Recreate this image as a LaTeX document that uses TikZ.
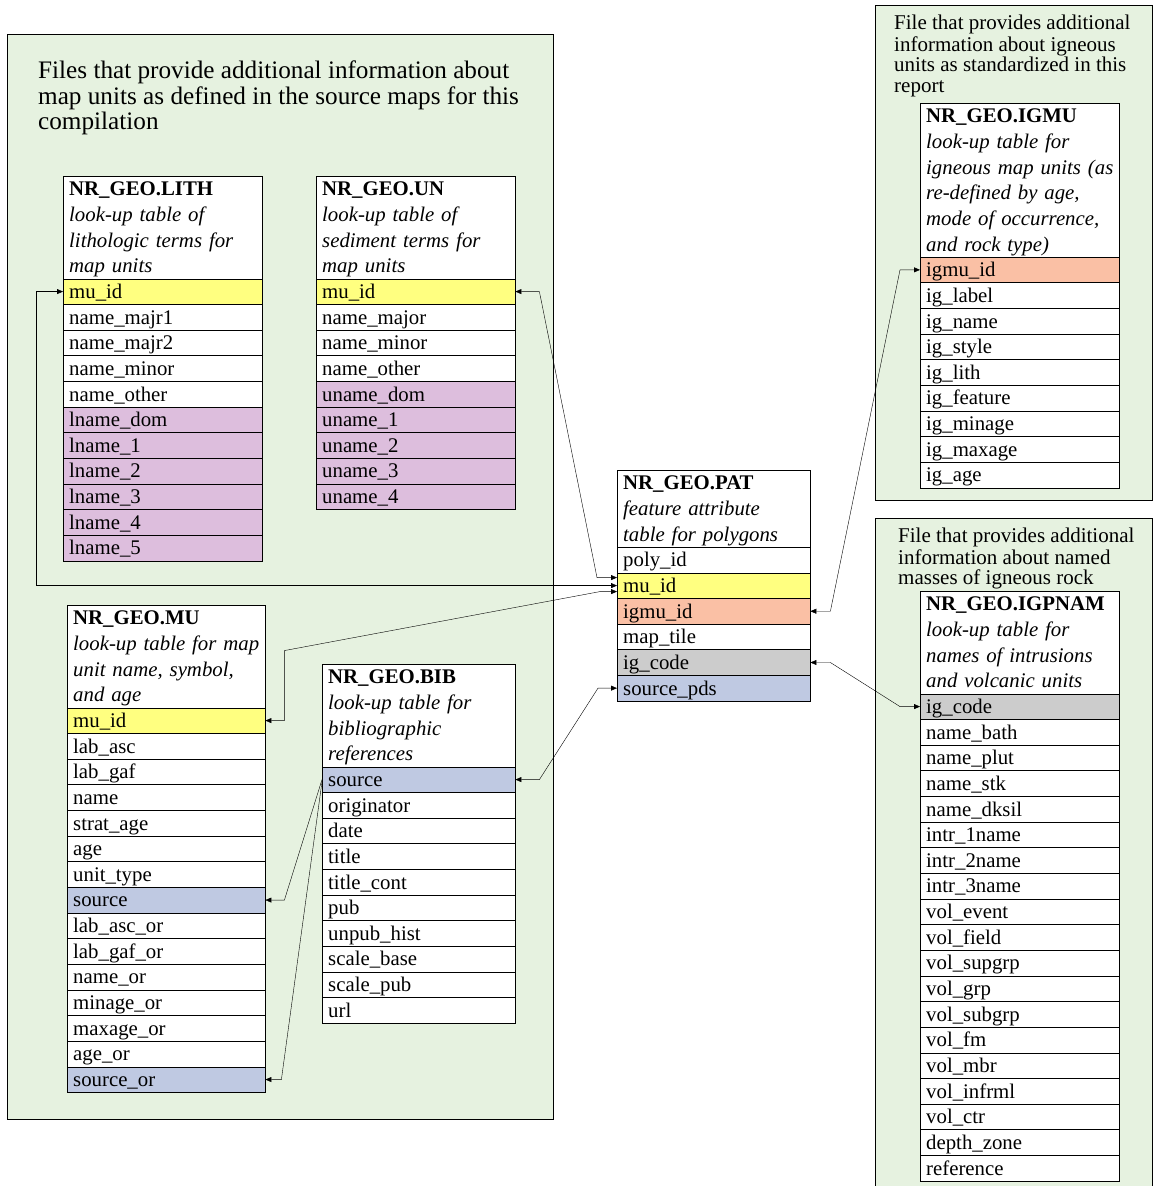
\documentclass[tikz,border=0pt]{standalone}
\usepackage{fontspec}
\setmainfont{Liberation Serif}
\usetikzlibrary{arrows.meta}
\definecolor{panelgreen}{RGB}{230,242,224}
\definecolor{keyyel}{RGB}{255,255,128}
\definecolor{keysal}{RGB}{250,192,165}
\definecolor{keylil}{RGB}{221,190,221}
\definecolor{keygry}{RGB}{204,204,204}
\definecolor{keyblu}{RGB}{191,201,226}
\hyphenpenalty=10000
\exhyphenpenalty=10000
\newcommand\tabfont{\fontsize{20.8}{25.64}\selectfont}
\newcommand\bigfont{\fontsize{25.2}{25}\selectfont}
\newcommand\smallfont{\fontsize{21}{20.7}\selectfont}
\newcommand\rowstrut{\rule[-5.9pt]{0pt}{25.64pt}}
\def\rowh{25.64}
\tikzset{
  tbl/.style={draw, anchor=north west, inner xsep=6pt, inner ysep=0pt,
    text width=#1, align=left, fill=white, font=\tabfont},
  panel/.style={draw, fill=panelgreen},
  note/.style={anchor=north west, inner sep=0pt, align=left},
  link/.style={draw, {Triangle[length=6pt,width=5pt]}-{Triangle[length=6pt,width=5pt]}},
  oneway/.style={draw, -{Triangle[length=6pt,width=5pt]}}
}
\begin{document}
\begin{tikzpicture}[x=1pt,y=-1pt]
  \useasboundingbox (0,0) rectangle (1153,1186);
  % panels
  \path[panel] (7,34) rectangle (553,1119);
  \path[panel] (875,5) rectangle (1152,500);
  \path[panel] (875,518) rectangle (1152,1200);
  \node[note, font=\bigfont] (srcnote) at (38,60.5)
    {\strut Files that provide additional information about\\map units as defined in the source maps for this\\compilation};
  \node[note, font=\smallfont] (igmunote) at (894,14.5)
    {\strut File that provides additional\\information about igneous\\units as standardized in this\\report};
  \node[note, font=\smallfont] (igpnote) at (898,527.5)
    {\strut File that provides additional\\information about named\\masses of igneous rock};

  \def \LithRows{
    1/mu\_id/keyyel,
    2/name\_majr1/white,
    3/name\_majr2/white,
    4/name\_minor/white,
    5/name\_other/white,
    6/lname\_dom/keylil,
    7/lname\_1/keylil,
    8/lname\_2/keylil,
    9/lname\_3/keylil,
    10/lname\_4/keylil,
    11/lname\_5/keylil}
  \def \UnRows{
    1/mu\_id/keyyel,
    2/name\_major/white,
    3/name\_minor/white,
    4/name\_other/white,
    5/uname\_dom/keylil,
    6/uname\_1/keylil,
    7/uname\_2/keylil,
    8/uname\_3/keylil,
    9/uname\_4/keylil}
  \def \MuRows{
    1/mu\_id/keyyel,
    2/lab\_asc/white,
    3/lab\_gaf/white,
    4/name/white,
    5/strat\_age/white,
    6/age/white,
    7/unit\_type/white,
    8/source/keyblu,
    9/lab\_asc\_or/white,
    10/lab\_gaf\_or/white,
    11/name\_or/white,
    12/minage\_or/white,
    13/maxage\_or/white,
    14/age\_or/white,
    15/source\_or/keyblu}
  \def \BibRows{
    1/source/keyblu,
    2/originator/white,
    3/date/white,
    4/title/white,
    5/title\_cont/white,
    6/pub/white,
    7/unpub\_hist/white,
    8/scale\_base/white,
    9/scale\_pub/white,
    10/url/white}
  \def \PatRows{
    1/poly\_id/white,
    2/mu\_id/keyyel,
    3/igmu\_id/keysal,
    4/map\_tile/white,
    5/ig\_code/keygry,
    6/source\_pds/keyblu}
  \def \IgmuRows{
    1/igmu\_id/keysal,
    2/ig\_label/white,
    3/ig\_name/white,
    4/ig\_style/white,
    5/ig\_lith/white,
    6/ig\_feature/white,
    7/ig\_minage/white,
    8/ig\_maxage/white,
    9/ig\_age/white}
  \def \IgpRows{
    1/ig\_code/keygry,
    2/name\_bath/white,
    3/name\_plut/white,
    4/name\_stk/white,
    5/name\_dksil/white,
    6/intr\_1name/white,
    7/intr\_2name/white,
    8/intr\_3name/white,
    9/vol\_event/white,
    10/vol\_field/white,
    11/vol\_supgrp/white,
    12/vol\_grp/white,
    13/vol\_subgrp/white,
    14/vol\_fm/white,
    15/vol\_mbr/white,
    16/vol\_infrml/white,
    17/vol\_ctr/white,
    18/depth\_zone/white,
    19/reference/white}

  % table headers
  \node[tbl=187pt] (lith) at (63,176)
    {\rowstrut\textbf{NR\_GEO.LITH}\\\textit{look-up~table~of}\\\textit{lithologic~terms~for}\\\textit{map~units}\rowstrut};
  \node[tbl=187pt] (un) at (316,176)
    {\rowstrut\textbf{NR\_GEO.UN}\\\textit{look-up~table~of}\\\textit{sediment~terms~for}\\\textit{map~units}\rowstrut};
  \node[tbl=186pt] (mu) at (67,605)
    {\rowstrut\textbf{NR\_GEO.MU}\\\mbox{\textit{look-up table for map}}\\\textit{unit~name,~symbol,}\\\textit{and~age}\rowstrut};
  \node[tbl=181pt] (bib) at (322,664)
    {\rowstrut\textbf{NR\_GEO.BIB}\\\textit{look-up~table~for}\\\textit{bibliographic}\\\textit{references}\rowstrut};
  \node[tbl=181pt] (pat) at (617,470)
    {\rowstrut\textbf{NR\_GEO.PAT}\\\textit{feature~attribute}\\\textit{table~for~polygons}\rowstrut};
  \node[tbl=187pt] (igmu) at (920,103)
    {\rowstrut\textbf{NR\_GEO.IGMU}\\\textit{look-up~table~for}\\\mbox{\textit{igneous map units (as}}\\\textit{re-defined~by~age,}\\\textit{mode~of~occurrence,}\\\textit{and~rock~type)}\rowstrut};
  \node[tbl=187pt] (igp) at (920,591)
    {\rowstrut\textbf{NR\_GEO.IGPNAM}\\\textit{look-up~table~for}\\\textit{names~of~intrusions}\\\textit{and~volcanic~units}\rowstrut};

  % table rows
  \foreach \id / \txt / \col in \LithRows{
    \node[tbl=187pt, fill=\col] (lith-\id) at (63,{176+(\id+3)*\rowh}) {\rowstrut\txt};
  }
  \foreach \id / \txt / \col in \UnRows{
    \node[tbl=187pt, fill=\col] (un-\id) at (316,{176+(\id+3)*\rowh}) {\rowstrut\txt};
  }
  \foreach \id / \txt / \col in \MuRows{
    \node[tbl=186pt, fill=\col] (mu-\id) at (67,{605+(\id+3)*\rowh}) {\rowstrut\txt};
  }
  \foreach \id / \txt / \col in \BibRows{
    \node[tbl=181pt, fill=\col] (bib-\id) at (322,{664+(\id+3)*\rowh}) {\rowstrut\txt};
  }
  \foreach \id / \txt / \col in \PatRows{
    \node[tbl=181pt, fill=\col] (pat-\id) at (617,{470+(\id+2)*\rowh}) {\rowstrut\txt};
  }
  \foreach \id / \txt / \col in \IgmuRows{
    \node[tbl=187pt, fill=\col] (igmu-\id) at (920,{103+(\id+5)*\rowh}) {\rowstrut\txt};
  }
  \foreach \id / \txt / \col in \IgpRows{
    \node[tbl=187pt, fill=\col] (igp-\id) at (920,{591+(\id+3)*\rowh}) {\rowstrut\txt};
  }

  % key links
  \path[link] (lith-1.west) -- ++(-27,0) |- (pat-2.west);
  \path[link] (un-1.east) -- ++(24,0) -- ([xshift=-20pt,yshift=8pt]pat-2.west) -- ([yshift=8pt]pat-2.west);
  \path[link] (mu-1.east) -- ++(19,0) -- ++(0,-70) -- ([xshift=-17pt,yshift=-6pt]pat-2.west) -- ([yshift=-6pt]pat-2.west);
  \path[link] (pat-3.east) -- ++(20,0) -- ([xshift=-20pt]igmu-1.west) -- (igmu-1.west);
  \path[link] (pat-5.east) -- ++(20,0) -- ([xshift=-20pt]igp-1.west) -- (igp-1.west);
  \path[link] (pat-6.west) -- ++(-19,0) -- ([xshift=24pt]bib-1.east) -- (bib-1.east);
  \path[oneway] (bib-1.west) -- ([xshift=19pt]mu-8.east) -- (mu-8.east);
  \path[oneway] ([yshift=-2pt]bib-1.west) -- ([xshift=16pt]mu-15.east) -- (mu-15.east);
\end{tikzpicture}
\end{document}
